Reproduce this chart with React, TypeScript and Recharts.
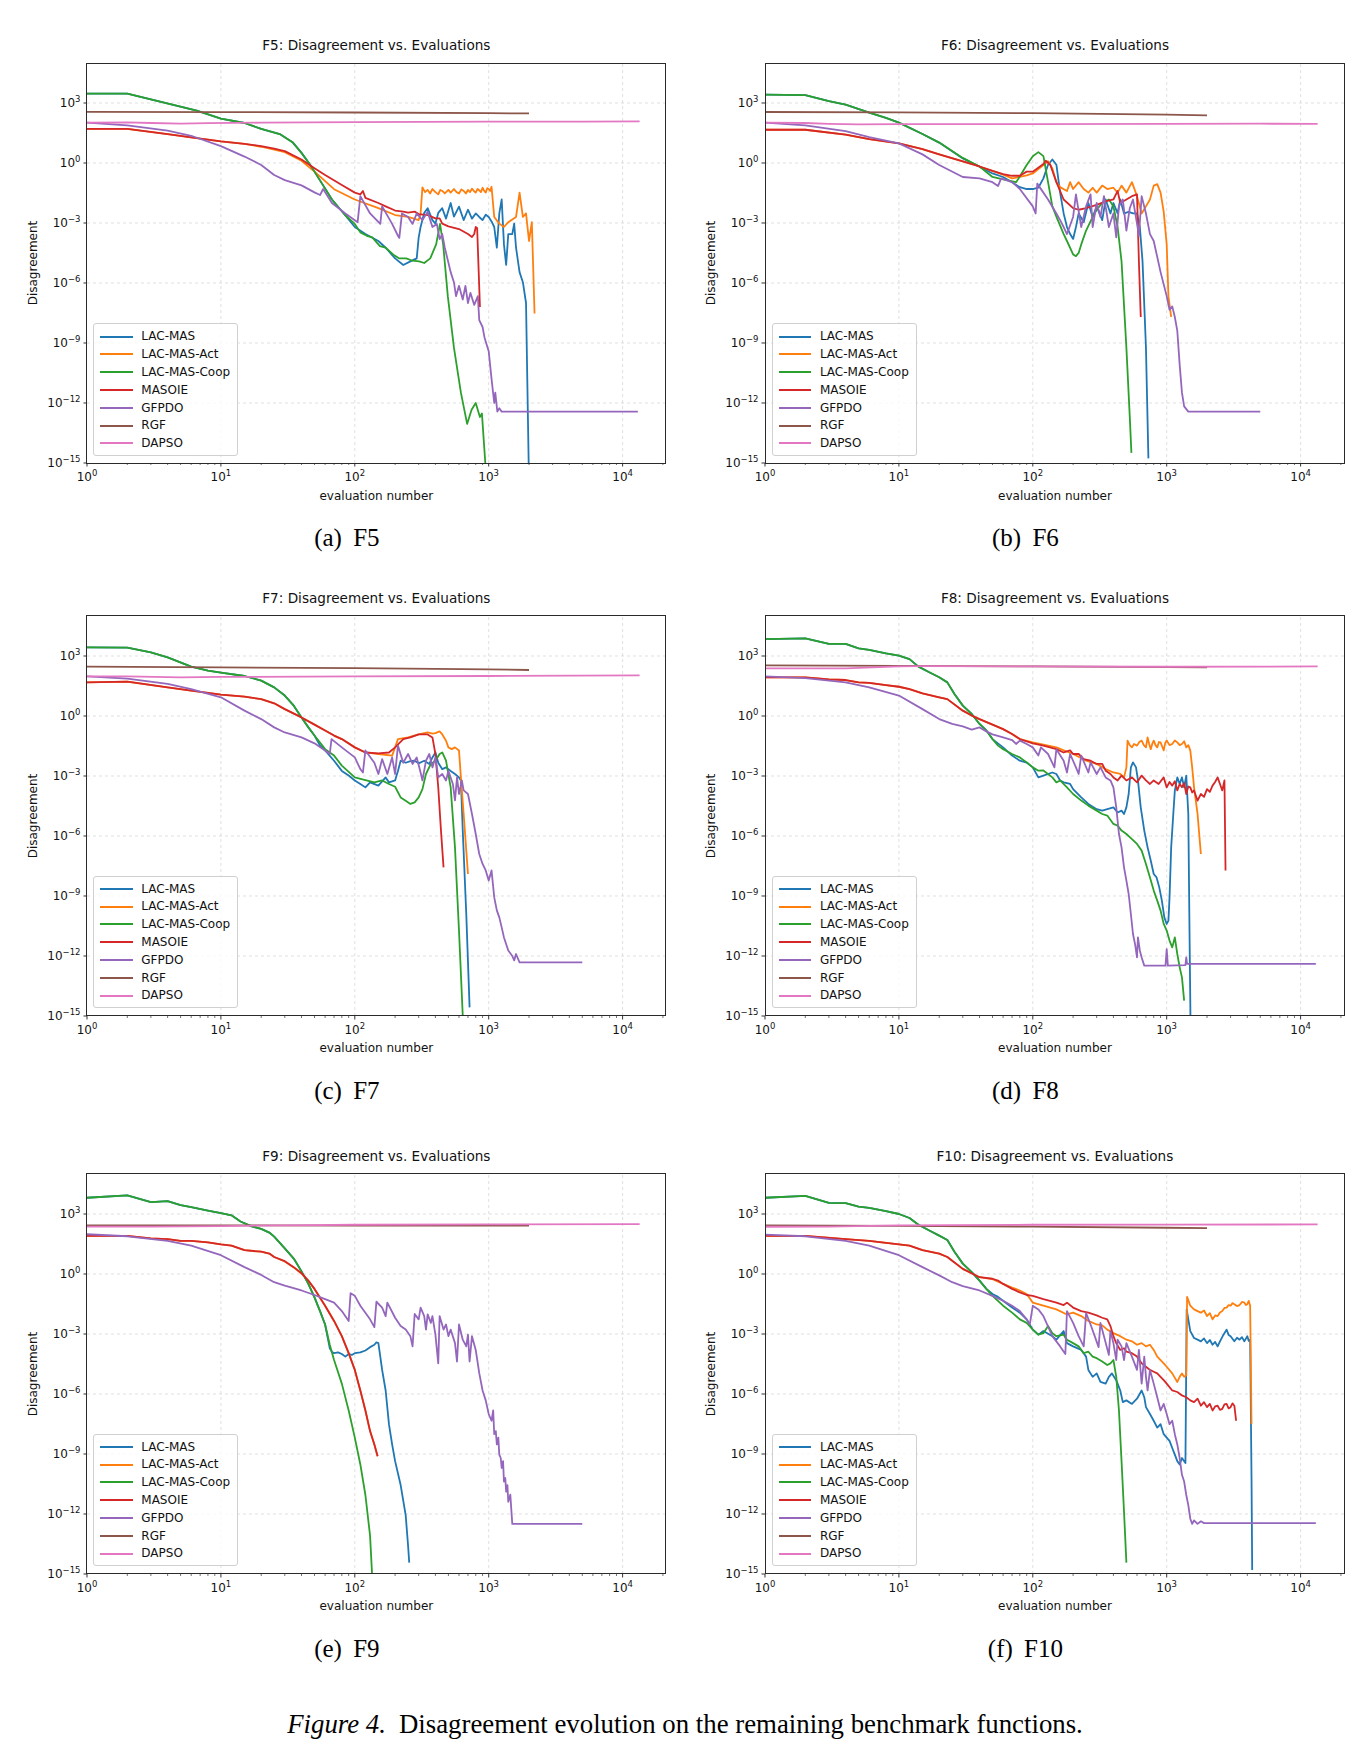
import React from 'react';
import { LineChart, Line, XAxis, YAxis, ReferenceLine } from 'recharts';

type Pt = [number, number];

// ---------- F5 ----------
const f5LacMas: Pt[] = [[1,2950],[2,2950],[3.9,1000],[6.6,420],[10,166],[15,100],[20,51],[27.5,28],[34.5,10.5],[40,3.2],[46.5,0.8],[50,0.37],[58,0.076],[67.5,0.015],[84.5,2.5e-3],[100,6.3e-4],[120,2.8e-4],[150,1.26e-4],[170,5.8e-5],[200,1.7e-5],[230,8e-6],[260,1.2e-5],[290,1.7e-5],[300,1.9e-4],[310,6.3e-4],[330,3.2e-3],[350,5.5e-3],[380,1.4e-3],[400,9.3e-4],[420,3.2e-3],[450,5.5e-3],[480,1.66e-3],[520,0.01],[550,2.1e-3],[600,6.6e-3],[650,1.4e-3],[700,4.6e-3],[750,1.66e-3],[800,3e-3],[850,2e-3],[900,1.4e-3],[950,2.6e-3],[1000,2e-3],[1050,1.2e-3],[1100,6.3e-4],[1150,5.8e-5],[1200,3e-3],[1250,0.015],[1300,8.5e-5],[1350,8e-6],[1400,2.8e-4],[1500,2.8e-4],[1550,9.3e-4],[1600,5.8e-5],[1700,3.5e-6],[1800,1.1e-6],[1900,1e-7],[2000,1e-16]];
const f5LacMasAct: Pt[] = [[1,51],[2,51],[4,28],[6,19],[10,12],[15,9],[20,6.5],[25,4.6],[30,3.5],[40,1.3],[50,0.37],[70,0.049],[100,0.015],[150,5.5e-3],[200,2.5e-3],[250,2e-3],[300,1.4e-3],[310,3e-3],[320,0.06],[335,0.035],[350,0.045],[365,0.03],[380,0.05],[400,0.035],[420,0.027],[435,0.045],[450,0.04],[470,0.03],[500,0.045],[520,0.033],[550,0.05],[575,0.035],[600,0.03],[625,0.048],[650,0.04],[675,0.03],[700,0.045],[725,0.035],[750,0.052],[775,0.04],[800,0.033],[825,0.05],[850,0.043],[875,0.035],[900,0.058],[925,0.04],[950,0.033],[975,0.055],[1000,0.05],[1025,0.04],[1050,0.065],[1100,2e-3],[1200,9.3e-4],[1300,6.3e-4],[1400,1.1e-3],[1500,1.5e-3],[1600,2e-3],[1700,0.033],[1800,2e-3],[1900,3e-3],[2000,1.26e-4],[2100,1.1e-3],[2200,3e-8]];
const f5LacMasCoop: Pt[] = [[1,2950],[2,2950],[3.9,1000],[6.6,420],[10,166],[15,100],[20,51],[27.5,28],[34.5,10.5],[40,3.2],[46.5,0.8],[50,0.37],[58,0.076],[67.5,0.015],[84.5,2.5e-3],[100,9e-4],[110,3.4e-4],[123,2.3e-4],[135,1.9e-4],[154,7e-5],[170,5.8e-5],[194,2.6e-5],[215,1.7e-5],[242,1.7e-5],[270,1.3e-5],[302,1.2e-5],[330,1e-5],[366,1.7e-5],[405,8.5e-5],[433,9e-4],[457,8.5e-5],[495,2.2e-7],[550,5.8e-10],[620,3.3e-12],[690,9e-14],[745,4.6e-13],[800,1e-12],[860,2e-13],[890,3e-13],[950,5e-16]];
const f5Masoie: Pt[] = [[1,51],[2,51],[4,28],[6,19],[10,12],[15,9],[20,7],[25,5.2],[30,3.9],[40,1.5],[50,0.55],[60,0.25],[80,0.08],[100,0.033],[110,0.027],[115,0.04],[120,0.018],[150,0.01],[170,6.8e-3],[200,4.2e-3],[230,3.7e-3],[250,3.3e-3],[280,3.7e-3],[300,2.8e-3],[350,2.5e-3],[400,1.7e-3],[430,1.7e-3],[450,9.3e-4],[500,6.8e-4],[600,5e-4],[700,2.8e-4],[750,2e-4],[780,2.8e-4],[800,6.3e-4],[820,5.5e-4],[860,6.3e-8]];
const f5Gfpdo: Pt[] = [[1,105],[2,76],[4,42],[6,23],[10,7],[15,2.1],[20,0.8],[25,0.25],[30,0.14],[40,0.076],[50,0.034],[55,0.025],[58,0.05],[67.5,0.01],[85,3e-3],[105,1.1e-3],[110,0.022],[130,3e-3],[155,9e-4],[160,6.8e-3],[190,9e-4],[210,2.3e-4],[215,1.8e-4],[225,3e-3],[250,2e-3],[270,9e-4],[290,3e-3],[320,1.4e-3],[350,3.6e-3],[380,6.3e-4],[410,9e-4],[430,1.55e-4],[450,2.8e-4],[470,5.8e-5],[520,3.5e-6],[550,1.1e-6],[570,2.2e-7],[600,7.2e-7],[640,1.5e-7],[670,7.2e-7],[700,1e-7],[730,3.2e-7],[780,8e-8],[830,2.2e-7],[850,1.4e-8],[900,6.3e-9],[930,1.9e-9],[1000,3.9e-10],[1050,1.6e-11],[1100,1e-12],[1120,3.3e-12],[1160,3.7e-13],[1200,5.5e-13],[1250,3.7e-13],[13000,3.7e-13]];
const f5Rgf: Pt[] = [[1,360],[10,350],[100,335],[1000,310],[2000,300]];
const f5Dapso: Pt[] = [[1,105],[2,108],[3,100],[5,94],[8,98],[20,104],[100,110],[1000,116],[5000,118],[13400,120]];

// ---------- F6 ----------
const f6LacMas: Pt[] = [[1,2600],[2,2500],[3,1230],[4,820],[6,330],[8,180],[10,105],[15,28],[20,10.5],[30,1.7],[40,0.65],[50,0.3],[60,0.2],[70,0.11],[80,0.062],[90,0.05],[100,0.05],[110,0.058],[120,0.17],[130,0.82],[140,1.5],[150,0.82],[160,0.033],[170,3e-3],[180,6.3e-4],[190,2.8e-4],[200,1.6e-4],[210,6.3e-4],[220,3e-3],[240,1.1e-3],[260,0.01],[280,2e-3],[300,6.8e-3],[330,1.4e-3],[350,0.015],[380,3e-3],[400,0.01],[430,3e-3],[450,0.015],[480,3e-3],[520,3.6e-3],[560,3e-3],[600,3e-3],[630,6.3e-4],[660,1.2e-5],[700,5.8e-10],[730,1.7e-15]];
const f6LacMasAct: Pt[] = [[1,46],[2,46],[4,26],[6,15.5],[10,9.6],[15,4.9],[20,2.7],[30,1.2],[40,0.67],[50,0.4],[60,0.26],[70,0.17],[80,0.2],[90,0.24],[100,0.3],[120,0.8],[130,1.23],[140,0.53],[150,0.11],[160,0.062],[180,0.04],[190,0.11],[200,0.05],[220,0.11],[240,0.05],[260,0.033],[280,0.058],[300,0.033],[330,0.074],[360,0.05],[400,0.058],[430,0.033],[460,0.074],[500,0.033],[550,0.11],[600,0.022],[650,3e-3],[700,6.8e-3],[750,0.015],[800,0.074],[850,0.088],[900,0.033],[950,3.6e-3],[1000,8.5e-5],[1030,2.2e-7],[1080,2e-8]];
const f6LacMasCoop: Pt[] = [[1,2600],[2,2500],[3,1230],[4,820],[6,330],[8,180],[10,105],[15,28],[20,10.5],[30,1.8],[40,0.67],[50,0.2],[60,0.15],[75,0.11],[80,0.21],[90,0.8],[100,2.2],[110,3.5],[120,2.2],[130,0.11],[140,6.8e-3],[150,2.1e-3],[170,2.8e-4],[180,1.26e-4],[200,2.7e-5],[210,2.2e-5],[220,3.2e-5],[230,8.5e-5],[250,4.2e-4],[280,2e-3],[300,4.6e-3],[330,0.01],[370,0.015],[400,6.8e-3],[430,6.3e-4],[460,1.2e-5],[500,5.8e-10],[530,2e-13],[545,3.2e-15]];
const f6Masoie: Pt[] = [[1,46],[2,46],[4,26],[6,15.5],[10,9.6],[15,4.9],[20,2.7],[30,1.2],[40,0.67],[50,0.4],[60,0.28],[70,0.23],[80,0.23],[90,0.37],[100,0.37],[120,0.9],[125,1.3],[135,0.82],[150,0.11],[170,0.015],[200,5.5e-3],[220,4.6e-3],[250,5.5e-3],[300,8e-3],[350,0.012],[400,0.015],[430,0.04],[450,0.01],[500,0.015],[550,0.022],[600,0.027],[620,1.2e-5],[640,2e-8]];
const f6Gfpdo: Pt[] = [[1,105],[2,76],[4,39],[6,19.5],[10,9.6],[15,2.7],[20,0.8],[30,0.2],[40,0.17],[50,0.11],[55,0.07],[58,0.17],[70,0.11],[80,0.05],[100,6.8e-3],[105,3e-3],[108,0.093],[130,0.015],[150,3e-3],[160,1.4e-3],[170,6.3e-4],[180,2.8e-4],[200,2e-3],[210,0.027],[230,6.3e-4],[250,6.8e-3],[270,0.027],[280,6.3e-4],[300,0.01],[320,2e-3],[340,0.022],[370,6.3e-4],[400,3e-3],[420,1.9e-4],[440,6.8e-3],[470,0.015],[500,4.2e-4],[530,5.5e-3],[560,0.015],[600,9.3e-4],[620,2.3e-4],[650,0.022],[700,3e-3],[750,2.8e-4],[800,1.26e-4],[900,3.5e-6],[1000,2.2e-7],[1050,4.6e-8],[1100,6.8e-8],[1150,2e-8],[1200,4e-9],[1250,8e-11],[1300,3.3e-12],[1350,6.8e-13],[1450,3.7e-13],[5000,3.7e-13]];
const f6Rgf: Pt[] = [[1,355],[10,340],[100,310],[1000,260],[2000,240]];
const f6Dapso: Pt[] = [[1,105],[2,100],[3,90],[5,85],[10,88],[100,88],[1000,90],[5000,92],[13400,90]];

// ---------- F7 ----------
const f7LacMas: Pt[] = [[1,2700],[2,2600],[3,1500],[4,860],[6,295],[8,185],[10,147],[15,100],[20,59],[25,27],[30,10.5],[35,3.3],[40,0.85],[45,0.27],[50,0.105],[55,0.033],[60,0.019],[70,5.8e-3],[80,1.8e-3],[90,1.05e-3],[100,6e-4],[110,4e-4],[120,2.7e-4],[130,4.8e-4],[150,3.3e-4],[170,8.5e-4],[180,4.8e-4],[200,6e-4],[210,1.8e-3],[220,5.8e-3],[240,4.6e-3],[260,5.6e-3],[280,5.8e-3],[300,4.3e-3],[330,5.8e-3],[360,4e-3],[380,8.5e-3],[400,0.015],[420,4.6e-3],[450,2.2e-3],[480,2.7e-3],[520,1.8e-3],[560,1.26e-3],[600,8.5e-4],[620,6e-4],[640,1.9e-6],[680,1.26e-10],[720,2.7e-15]];
const f7LacMasAct: Pt[] = [[1,48],[2,52],[4,27],[6,18.6],[10,11.7],[15,9.3],[20,7],[25,4.3],[30,2.2],[40,0.85],[50,0.37],[60,0.19],[70,0.105],[80,0.07],[100,0.027],[120,0.015],[150,0.0126],[190,0.0105],[200,0.027],[210,0.07],[250,0.085],[300,0.12],[350,0.15],[380,0.13],[400,0.14],[430,0.17],[450,0.12],[480,0.058],[500,0.027],[530,0.022],[560,0.027],[600,0.019],[620,8.5e-4],[650,1.26e-5],[700,1.26e-8]];
const f7LacMasCoop: Pt[] = [[1,2700],[2,2600],[3,1500],[4,860],[6,295],[8,185],[10,147],[15,100],[20,59],[25,27],[30,10.5],[35,3.3],[40,0.85],[45,0.27],[50,0.105],[60,0.022],[70,0.0105],[80,3.3e-3],[100,8.5e-4],[120,6.3e-4],[140,4.8e-4],[160,6e-4],[180,4e-4],[200,2.9e-4],[220,8.5e-5],[240,5.8e-5],[260,4e-5],[280,4.8e-5],[300,8.5e-5],[320,2.2e-4],[340,1.26e-3],[370,4e-3],[400,5.8e-3],[430,0.0126],[450,0.015],[480,5.8e-3],[520,2.7e-4],[560,2.7e-7],[600,1.9e-11],[650,1e-16]];
const f7Masoie: Pt[] = [[1,48],[2,52],[4,27],[6,18.6],[10,11.7],[15,9.3],[20,7],[25,4.3],[30,2.2],[40,0.85],[50,0.37],[60,0.19],[70,0.105],[80,0.07],[100,0.027],[120,0.015],[150,0.0135],[180,0.015],[200,0.027],[230,0.07],[260,0.085],[300,0.12],[350,0.12],[380,0.085],[400,0.0126],[420,2.7e-4],[440,1.9e-6],[460,2.7e-8]];
const f7Gfpdo: Pt[] = [[1,96],[2,74],[4,40],[6,22],[10,8.6],[15,1.85],[20,0.7],[25,0.27],[30,0.15],[40,0.085],[50,0.043],[60,0.019],[65,0.0126],[67,0.07],[80,0.027],[100,8.5e-3],[110,2.2e-3],[115,1.5e-3],[120,0.019],[140,4.6e-3],[150,1.26e-3],[160,7e-3],[175,1.26e-3],[190,8.5e-3],[200,1.26e-3],[210,0.033],[230,4.6e-3],[250,0.0126],[270,4e-3],[290,8.5e-3],[310,1.5e-3],[320,6e-4],[340,5.8e-3],[360,0.0126],[380,2.7e-3],[400,8.5e-3],[420,8.5e-4],[450,1.26e-3],[480,6e-4],[500,1.8e-3],[540,4e-4],[560,6e-5],[580,8.5e-4],[600,1.26e-4],[630,6e-4],[650,1.9e-4],[700,1.26e-4],[750,1.26e-5],[800,1.26e-6],[850,1.26e-7],[900,4e-8],[950,1.9e-8],[1000,5.9e-9],[1050,1.9e-8],[1100,8.5e-10],[1150,1.9e-10],[1200,8.5e-11],[1250,2.7e-11],[1300,8.5e-12],[1400,1.9e-12],[1500,1e-12],[1550,6e-13],[1600,1.26e-12],[1700,4.8e-13],[5000,4.8e-13]];
const f7Rgf: Pt[] = [[1,295],[10,270],[100,245],[1000,215],[2000,200]];
const f7Dapso: Pt[] = [[1,96],[2,95],[5,85],[10,90],[100,95],[1000,100],[13400,107]];

// ---------- F8 ----------
const f8LacMas: Pt[] = [[1,7000],[2,7600],[3,4000],[4,4000],[5,2400],[6,2000],[8,1350],[10,1050],[12,700],[14,295],[17,150],[20,86],[23,48],[26,12.6],[30,3.3],[35,1.26],[40,0.4],[45,0.19],[50,0.07],[60,0.027],[70,0.0105],[80,5.8e-3],[90,4.7e-3],[100,2.7e-3],[110,8.5e-4],[120,1.05e-3],[140,1.5e-3],[150,1.26e-3],[160,6e-4],[170,4.8e-4],[190,4e-4],[200,2.2e-4],[230,8.5e-5],[260,4e-5],[300,2.2e-5],[330,1.86e-5],[360,2.2e-5],[400,2.7e-5],[430,1.5e-5],[460,1.86e-5],[480,1.26e-5],[500,2.7e-5],[520,1.26e-4],[540,2.7e-3],[560,4.8e-3],[590,2.7e-3],[610,6e-4],[640,2.7e-5],[680,1.86e-6],[720,2.7e-7],[760,5.9e-8],[800,1.26e-8],[840,8.5e-9],[880,2.7e-9],[920,5.9e-10],[960,8.5e-11],[1000,4e-11],[1030,5.9e-11],[1050,8.5e-10],[1080,2.7e-7],[1120,1.26e-5],[1150,1.86e-4],[1200,8.5e-4],[1250,4e-4],[1300,8.5e-4],[1350,2.7e-4],[1400,1.05e-3],[1450,1.26e-5],[1480,1.86e-11],[1510,1e-16]];
const f8LacMasAct: Pt[] = [[1,86],[2,86],[3,68],[4,63],[5,48],[6,45],[8,35],[10,29],[12,22],[15,13.5],[20,8.6],[23,7],[30,1.85],[35,1.05],[40,0.7],[50,0.37],[60,0.22],[70,0.126],[80,0.07],[100,0.048],[150,0.027],[200,0.0126],[250,5.8e-3],[300,4e-3],[350,2.2e-3],[400,1.5e-3],[450,1.26e-3],[480,8.5e-4],[500,2.7e-3],[510,0.059],[530,0.035],[550,0.027],[570,0.04],[600,0.033],[625,0.05],[650,0.059],[675,0.035],[700,0.027],[720,0.085],[740,0.04],[760,0.022],[780,0.04],[800,0.059],[825,0.035],[850,0.027],[875,0.05],[900,0.048],[925,0.03],[950,0.019],[975,0.045],[1000,0.059],[1050,0.035],[1100,0.04],[1150,0.06],[1200,0.048],[1250,0.035],[1300,0.04],[1350,0.055],[1400,0.027],[1450,0.035],[1500,0.019],[1550,2.7e-3],[1600,2.7e-4],[1700,1.26e-5],[1800,1.26e-7]];
const f8LacMasCoop: Pt[] = [[1,7000],[2,7600],[3,4000],[4,4000],[5,2400],[6,2000],[8,1350],[10,1050],[12,700],[14,295],[17,150],[20,86],[23,48],[26,12.6],[30,3.3],[35,1.26],[40,0.4],[45,0.19],[50,0.07],[55,0.033],[60,0.022],[70,0.0126],[80,8.5e-3],[90,4.8e-3],[100,2.7e-3],[110,1.85e-3],[120,1.9e-3],[140,8.5e-4],[150,4.8e-4],[160,6e-4],[180,2.7e-4],[200,1.26e-4],[230,5.9e-5],[260,3.3e-5],[300,1.86e-5],[330,1.26e-5],[360,1.05e-5],[400,4e-6],[430,3.3e-6],[460,1.86e-6],[500,1.26e-6],[550,7e-7],[600,4e-7],[650,1.86e-7],[700,4e-8],[750,8.5e-9],[800,1.86e-9],[850,5.9e-10],[900,1.86e-10],[950,4e-11],[1000,1.86e-11],[1050,5.9e-12],[1100,2.7e-12],[1150,8.5e-12],[1200,1.26e-12],[1250,2.7e-13],[1300,8.5e-14],[1350,5.9e-15]];
const f8Masoie: Pt[] = [[1,86],[2,86],[3,68],[4,63],[5,48],[6,45],[8,35],[10,29],[12,22],[15,13.5],[20,8.6],[23,7],[30,1.85],[35,1.05],[40,0.7],[50,0.37],[60,0.22],[70,0.126],[80,0.07],[100,0.043],[120,0.033],[150,0.022],[170,0.015],[190,0.019],[200,0.0126],[220,0.0126],[240,7e-3],[270,5.8e-3],[300,4e-3],[330,4e-3],[350,1.85e-3],[380,1.26e-3],[400,8.5e-4],[430,6e-4],[460,1.05e-3],[500,6e-4],[550,8.5e-4],[600,4.8e-4],[650,1.05e-3],[700,6e-4],[750,4e-4],[800,6e-4],[870,4e-4],[950,8.5e-4],[1000,2.7e-4],[1050,5e-4],[1100,3.3e-4],[1150,5.5e-4],[1200,1.9e-4],[1250,4e-4],[1300,2.7e-4],[1350,4.5e-4],[1400,1.26e-4],[1450,3e-4],[1500,2.7e-4],[1550,1.5e-4],[1600,1.9e-4],[1700,5.9e-5],[1800,1.26e-4],[1900,9e-5],[2000,2.2e-4],[2100,1.6e-4],[2200,3.3e-4],[2300,5e-4],[2400,8.5e-4],[2500,4e-4],[2600,1.9e-4],[2700,6e-4],[2750,1.9e-8]];
const f8Gfpdo: Pt[] = [[1,96],[2,79],[4,48],[6,27],[10,10.5],[15,2.2],[20,0.7],[25,0.4],[30,0.3],[35,0.21],[40,0.27],[45,0.17],[50,0.12],[60,0.085],[70,0.063],[75,0.04],[80,0.059],[90,0.04],[100,0.027],[110,0.0105],[115,0.027],[130,0.0126],[145,2.7e-3],[150,0.022],[170,5.8e-3],[180,1.5e-3],[190,0.0126],[210,2.7e-3],[220,1.26e-3],[230,0.0105],[260,1.5e-3],[270,4.8e-3],[300,1.26e-3],[320,2.7e-3],[350,8.5e-4],[380,6e-4],[400,2.7e-4],[420,2.7e-5],[440,1.26e-6],[460,2.7e-7],[480,2.7e-8],[500,5.9e-9],[520,1.26e-9],[540,1.26e-10],[560,1.26e-11],[580,4e-12],[600,8.5e-13],[610,8.5e-12],[630,1.9e-12],[650,8.5e-13],[680,3.3e-13],[980,3.3e-13],[1000,2.2e-12],[1020,3.3e-13],[1380,3.5e-13],[1400,8.5e-13],[1420,4e-13],[13000,4e-13]];
const f8Rgf: Pt[] = [[1,340],[10,320],[100,300],[1000,280],[2000,270]];
const f8Dapso: Pt[] = [[1,240],[4,240],[10,300],[15,310],[100,300],[1000,290],[13400,300]];

// ---------- F9 ----------
const f9LacMas: Pt[] = [[1,6500],[2,8500],[3,3900],[4,4400],[5,2750],[6,2200],[8,1480],[10,1100],[12,860],[14,420],[17,240],[20,180],[23,118],[25,74],[30,19],[35,5.9],[40,1.35],[45,0.32],[50,0.068],[55,0.014],[60,3e-3],[65,1.95e-4],[68,1.2e-4],[70,1.1e-4],[75,1.2e-4],[80,1e-4],[85,7.4e-5],[90,1e-4],[95,9e-5],[100,1.1e-4],[110,1.2e-4],[120,1.5e-4],[130,2.2e-4],[140,2.9e-4],[145,3.8e-4],[150,3.5e-4],[155,7.4e-5],[160,1.6e-5],[170,1.5e-6],[180,3e-8],[190,3e-9],[200,4.4e-10],[220,2.8e-11],[240,8.5e-13],[250,2.6e-14],[255,3.7e-15]];
const f9LacMasAct: Pt[] = [[1,80],[2,80],[3,60],[4,56],[5,45],[6,45],[8,38],[10,30],[12,26],[15,15.5],[20,13],[23,10.5],[25,7.1],[30,4.2],[35,2.1],[40,1.05],[45,0.45],[50,0.18],[60,0.026],[70,4.5e-3],[80,7.8e-4],[90,1.1e-4],[100,1.6e-5],[110,1.5e-6],[120,1.5e-7],[130,1.4e-8],[140,3e-9],[148,7.8e-10]];
const f9LacMasCoop: Pt[] = [[1,6500],[2,8500],[3,3900],[4,4400],[5,2750],[6,2200],[8,1480],[10,1100],[12,860],[14,420],[17,240],[20,180],[23,118],[25,74],[30,19],[35,5.9],[40,1.35],[45,0.32],[50,0.068],[55,0.014],[60,3e-3],[65,2.9e-4],[70,5e-5],[80,3.3e-6],[90,1.5e-7],[100,6.6e-9],[110,3e-10],[120,8.9e-12],[130,8.3e-14],[137,1e-16]];
const f9Masoie: Pt[] = [[1,80],[2,80],[3,60],[4,56],[5,45],[6,45],[8,38],[10,30],[12,26],[15,15.5],[20,13],[23,10.5],[25,7.1],[30,4.4],[35,2.2],[40,1.1],[45,0.47],[50,0.18],[60,0.026],[70,4.5e-3],[80,7.8e-4],[90,1.1e-4],[100,1.6e-5],[110,1.5e-6],[120,1.5e-7],[130,1.4e-8],[140,3e-9],[148,7.8e-10]];
const f9Gfpdo: Pt[] = [[1,97],[2,77],[4,45],[6,26],[10,8.7],[15,2.2],[20,0.9],[25,0.39],[30,0.26],[40,0.15],[50,0.089],[60,0.055],[70,0.037],[80,0.014],[90,4.5e-3],[93,0.11],[100,0.081],[110,0.026],[130,5.4e-3],[140,2.2e-3],[145,0.041],[160,0.021],[170,7.9e-3],[175,0.037],[200,6.5e-3],[220,2.5e-3],[240,1.66e-3],[260,7.8e-4],[270,2.4e-4],[280,0.01],[300,5.4e-3],[310,0.021],[330,7.9e-3],[340,1.66e-3],[350,9.5e-3],[370,3.6e-3],[380,7.9e-3],[400,9.3e-4],[420,3.4e-5],[430,7.9e-3],[460,1.66e-3],[480,3e-3],[500,7.8e-4],[520,1.66e-3],[560,3.5e-4],[580,4.2e-5],[600,3e-3],[640,5.2e-4],[680,2.4e-4],[700,9.3e-4],[720,4.2e-5],[750,7.8e-4],[800,1.6e-4],[850,1.1e-5],[900,1.5e-6],[950,4.8e-7],[1000,1e-7],[1050,4.6e-8],[1080,1.5e-7],[1100,9.8e-9],[1130,1.4e-8],[1150,3e-9],[1180,6.6e-9],[1200,9.3e-10],[1230,6.3e-10],[1250,2e-10],[1280,4.4e-10],[1300,4.2e-11],[1330,6.3e-11],[1350,1.3e-11],[1380,2.8e-11],[1400,4.1e-12],[1450,9.3e-12],[1500,3.2e-13],[5000,3.2e-13]];
const f9Rgf: Pt[] = [[1,270],[10,268],[100,265],[1000,262],[2000,260]];
const f9Dapso: Pt[] = [[1,235],[3,232],[10,250],[30,270],[100,290],[1000,300],[13400,310]];

// ---------- F10 ----------
const f10LacMas: Pt[] = [[1,6500],[2,8000],[3,3600],[4,3500],[5,2350],[6,2000],[8,1380],[10,1000],[12,630],[14,290],[17,145],[20,83],[23,50],[26,13],[30,3.3],[35,1.23],[40,0.47],[45,0.18],[50,0.1],[55,0.072],[60,0.046],[70,0.021],[80,0.0117],[90,5.4e-3],[100,1.66e-3],[110,9.3e-4],[120,1.4e-3],[140,7.8e-4],[150,5.2e-4],[170,1.4e-3],[180,3.5e-4],[200,2.4e-4],[230,1.6e-4],[250,7.4e-5],[260,1.6e-5],[280,7.2e-6],[300,1.07e-5],[320,4e-6],[350,3.3e-6],[370,7.2e-6],[390,1.07e-5],[420,4.9e-6],[450,1.5e-6],[470,3.9e-7],[500,4.8e-7],[550,3.2e-7],[600,5.8e-7],[650,1.5e-6],[680,6.9e-7],[700,2.2e-7],[750,1e-7],[800,4.6e-8],[850,2.1e-8],[900,3.1e-8],[950,9.8e-9],[1000,6.6e-9],[1050,4.5e-9],[1100,2e-9],[1150,9.3e-10],[1200,4.4e-10],[1250,3e-10],[1300,6.3e-10],[1380,3.5e-10],[1410,0.017],[1500,1.4e-3],[1600,6.3e-4],[1700,5.2e-4],[1800,4.3e-4],[1900,6e-4],[2000,3.5e-4],[2100,5e-4],[2200,2.9e-4],[2300,4e-4],[2400,2.4e-4],[2500,4.3e-4],[2650,9e-4],[2800,1.66e-3],[2900,9e-4],[3000,7.8e-4],[3200,4.3e-4],[3350,6.5e-4],[3500,5.2e-4],[3650,7e-4],[3800,4.3e-4],[4000,7.8e-4],[4100,4.5e-4],[4200,5.2e-4],[4300,6.3e-11],[4350,1.6e-15]];
const f10LacMasAct: Pt[] = [[1,80],[2,80],[4,56],[6,45],[10,30],[12,26],[15,15.5],[20,10.5],[23,7.1],[30,1.8],[40,0.69],[50,0.55],[60,0.32],[70,0.21],[80,0.15],[90,0.1],[100,0.037],[120,0.026],[150,0.017],[180,9.5e-3],[200,0.0117],[230,7.9e-3],[260,4.5e-3],[300,3e-3],[330,2.7e-3],[360,1.66e-3],[400,1.1e-3],[450,7.8e-4],[500,5.2e-4],[550,4.3e-4],[600,2.9e-4],[650,3.5e-4],[700,2.4e-4],[750,2.9e-4],[800,1.6e-4],[850,7.4e-5],[900,5e-5],[950,3.4e-5],[1000,2.3e-5],[1100,1.07e-5],[1200,4e-6],[1250,7.2e-6],[1300,1.07e-5],[1350,7.2e-6],[1400,8.7e-6],[1420,0.072],[1500,0.026],[1600,0.017],[1700,0.014],[1800,0.0117],[1900,0.015],[2000,7.9e-3],[2100,0.011],[2200,5.4e-3],[2300,8.5e-3],[2400,7.9e-3],[2500,0.012],[2600,0.014],[2700,0.02],[2800,0.021],[2900,0.028],[3000,0.026],[3100,0.035],[3200,0.031],[3350,0.025],[3500,0.028],[3650,0.04],[3800,0.037],[3900,0.028],[4000,0.031],[4100,0.045],[4200,0.026],[4300,3.2e-8]];
const f10LacMasCoop: Pt[] = [[1,6500],[2,8000],[3,3600],[4,3500],[5,2350],[6,2000],[8,1380],[10,1000],[12,630],[14,290],[17,145],[20,83],[23,50],[26,13],[30,3.3],[35,1.23],[40,0.47],[45,0.18],[50,0.081],[60,0.026],[70,0.0117],[80,5.4e-3],[90,3.6e-3],[100,1.66e-3],[110,9.3e-4],[120,1.1e-3],[130,2.5e-3],[140,1.1e-3],[150,7.8e-4],[170,9.3e-4],[180,5.2e-4],[200,3.5e-4],[220,2.4e-4],[240,1.1e-4],[260,1.3e-4],[280,7.4e-5],[300,6.2e-5],[330,4.2e-5],[360,2.8e-5],[380,3.4e-5],[400,5e-5],[420,7.2e-6],[440,1.5e-7],[460,4.4e-10],[480,1.3e-12],[500,3.7e-15]];
const f10Masoie: Pt[] = [[1,80],[2,80],[4,56],[6,45],[10,30],[12,26],[15,15.5],[20,10.5],[23,7.1],[30,1.8],[40,0.69],[50,0.58],[55,0.47],[60,0.32],[70,0.18],[80,0.12],[90,0.089],[100,0.081],[120,0.055],[150,0.037],[170,0.028],[180,0.037],[200,0.021],[230,0.014],[260,0.0117],[300,8.5e-3],[330,6.5e-3],[360,5.4e-3],[380,2.5e-3],[400,7.8e-4],[420,3.5e-4],[450,1.6e-4],[480,1.95e-4],[500,1.3e-4],[550,1.1e-4],[600,7.4e-5],[650,3.4e-5],[700,2.3e-5],[750,1.6e-5],[800,1.3e-5],[850,1.07e-5],[900,7.2e-6],[950,4.9e-6],[1000,3.3e-6],[1100,1.5e-6],[1200,1.26e-6],[1300,8.5e-7],[1400,6.9e-7],[1500,4.8e-7],[1600,3.9e-7],[1700,5.8e-7],[1800,2.6e-7],[1900,3.9e-7],[2000,2.2e-7],[2100,3.2e-7],[2200,1.5e-7],[2300,2.4e-7],[2400,2.6e-7],[2500,1.6e-7],[2600,1.8e-7],[2700,3e-7],[2800,3.2e-7],[2900,1.9e-7],[3000,2.2e-7],[3100,3.4e-7],[3200,2.6e-7],[3300,4.6e-8]];
const f10Gfpdo: Pt[] = [[1,94],[2,77],[4,45],[6,26],[10,8.7],[15,2.2],[20,0.85],[25,0.39],[30,0.25],[40,0.15],[50,0.081],[60,0.046],[70,0.026],[80,0.014],[90,5.4e-3],[95,3e-3],[100,0.026],[110,0.017],[120,7.9e-3],[140,7.8e-4],[160,2.4e-4],[175,1e-4],[180,0.014],[200,3.6e-3],[220,7.8e-4],[240,2.4e-4],[250,0.011],[270,3e-3],[290,7.8e-4],[310,2.2e-4],[320,3.6e-3],[340,7.8e-4],[370,9e-5],[380,1.4e-3],[400,3.5e-4],[420,5e-5],[430,5.2e-4],[460,2.4e-4],[480,5e-5],[500,3.5e-4],[550,7.4e-5],[600,1.6e-5],[620,1.6e-4],[650,3.3e-6],[680,7.4e-5],[700,7.2e-6],[720,1.5e-6],[750,1.6e-5],[800,3.3e-6],[850,6.9e-7],[900,1.5e-7],[950,3.2e-7],[1000,1e-7],[1050,3.1e-8],[1100,4.6e-8],[1150,9.8e-9],[1200,3e-9],[1250,6.3e-10],[1300,9.1e-11],[1350,4.2e-11],[1400,8.9e-12],[1450,2.8e-12],[1500,5.8e-13],[1550,3.2e-13],[1600,4.8e-13],[1700,3.2e-13],[1800,4.3e-13],[1900,3.5e-13],[13000,3.5e-13]];
const f10Rgf: Pt[] = [[1,270],[10,255],[100,235],[1000,205],[2000,195]];
const f10Dapso: Pt[] = [[1,230],[3,235],[10,270],[100,290],[1000,295],[13400,300]];

// ---------- series, panels, axes ----------
const SERIES_NAMES = ['LAC-MAS', 'LAC-MAS-Act', 'LAC-MAS-Coop', 'MASOIE', 'GFPDO', 'RGF', 'DAPSO'];
const SERIES_COLORS = ['#1f77b4', '#ff7f0e', '#2ca02c', '#d62728', '#9467bd', '#8c564b', '#e377c2'];

const PANEL_TITLES = [
  'F5: Disagreement vs. Evaluations',
  'F6: Disagreement vs. Evaluations',
  'F7: Disagreement vs. Evaluations',
  'F8: Disagreement vs. Evaluations',
  'F9: Disagreement vs. Evaluations',
  'F10: Disagreement vs. Evaluations',
];
const PANEL_CAPTIONS = ['(a) F5', '(b) F6', '(c) F7', '(d) F8', '(e) F9', '(f) F10'];

const PANEL_SERIES: Pt[][][] = [
  [f5LacMas, f5LacMasAct, f5LacMasCoop, f5Masoie, f5Gfpdo, f5Rgf, f5Dapso],
  [f6LacMas, f6LacMasAct, f6LacMasCoop, f6Masoie, f6Gfpdo, f6Rgf, f6Dapso],
  [f7LacMas, f7LacMasAct, f7LacMasCoop, f7Masoie, f7Gfpdo, f7Rgf, f7Dapso],
  [f8LacMas, f8LacMasAct, f8LacMasCoop, f8Masoie, f8Gfpdo, f8Rgf, f8Dapso],
  [f9LacMas, f9LacMasAct, f9LacMasCoop, f9Masoie, f9Gfpdo, f9Rgf, f9Dapso],
  [f10LacMas, f10LacMasAct, f10LacMasCoop, f10Masoie, f10Gfpdo, f10Rgf, f10Dapso],
];

const X_LABEL = 'evaluation number';
const Y_LABEL = 'Disagreement';
const FIGURE_LABEL = 'Figure 4.';
const FIGURE_TEXT = 'Disagreement evolution on the remaining benchmark functions.';

const X_DECADES = [1, 10, 100, 1000, 10000];
const X_MINOR_STEPS = [2, 3, 4, 5, 6, 7, 8, 9];
const Y_TICKS = [1e-15, 1e-12, 1e-9, 1e-6, 1e-3, 1, 1e3];
const X_DOMAIN: [number, number] = [1, 21200];
const Y_DOMAIN: [number, number] = [1e-15, 1e5];
const X_TICKS = X_DECADES.flatMap((d) => [d, ...X_MINOR_STEPS.map((m) => m * d)]).filter((v) => v <= X_DOMAIN[1]);

// ---------- layout ----------
const PLOT_LEFT = [86.7, 765.3];
const PLOT_TOP = [63.3, 615.5, 1173.5];
const PLOT_W = 579.3;
const PLOT_H = 400;
const SANS = '"DejaVu Sans", Verdana, sans-serif';
const SERIF = '"Liberation Serif", "Times New Roman", serif';
const INK = '#111';
const LINE_WIDTH = 1.8;

function PowerLabel({ x, y, exp, anchor }: { x: number; y: number; exp: number; anchor: 'middle' | 'end' }) {
  const expText = exp < 0 ? `\u2212${-exp}` : `${exp}`;
  return (
    <text x={x} y={y} textAnchor={anchor} fontFamily={SANS} fontSize={12} fill={INK}>
      10
      <tspan dy={-5.5} fontSize={8.5}>
        {expText}
      </tspan>
    </text>
  );
}

function XTick(props: any) {
  const { x, y, payload } = props;
  const v = payload.value as number;
  const major = X_DECADES.includes(v);
  return (
    <g>
      <line x1={x} x2={x} y1={y} y2={y + (major ? 3.5 : 2)} stroke="#333" strokeWidth={major ? 1 : 0.7} />
      {major && <PowerLabel x={x} y={y + 18.5} exp={Math.round(Math.log10(v))} anchor="middle" />}
    </g>
  );
}

function YTick(props: any) {
  const { x, y, payload } = props;
  return (
    <g>
      <line x1={x - 3.5} x2={x} y1={y} y2={y} stroke="#333" strokeWidth={1} />
      <PowerLabel x={x - 6.5} y={y + 4.3} exp={Math.round(Math.log10(payload.value))} anchor="end" />
    </g>
  );
}

function centered(cx: number, cy: number, extra: React.CSSProperties = {}): React.CSSProperties {
  return {
    position: 'absolute',
    left: cx,
    top: cy,
    transform: 'translate(-50%, -50%)',
    whiteSpace: 'nowrap',
    lineHeight: 1,
    ...extra,
  };
}

function Panel({ index }: { index: number }) {
  const col = index % 2;
  const row = Math.floor(index / 2);
  const left = PLOT_LEFT[col];
  const top = PLOT_TOP[row];
  const cx = left + PLOT_W / 2;
  const series = PANEL_SERIES[index];
  const gridStyle = { stroke: '#c8c8c8', strokeOpacity: 0.7, strokeDasharray: '3 3', strokeWidth: 0.8 };

  return (
    <>
      <div style={centered(cx, top - 17, { fontFamily: SANS, fontSize: 13.6, color: INK })}>{PANEL_TITLES[index]}</div>
      <div style={centered(left - 54, top + PLOT_H / 2, { fontFamily: SANS, fontSize: 12, color: INK, transform: 'translate(-50%, -50%) rotate(-90deg)' })}>
        {Y_LABEL}
      </div>
      <div style={centered(cx, top + PLOT_H + 32.5, { fontFamily: SANS, fontSize: 12, color: INK })}>{X_LABEL}</div>
      <div style={centered(cx - 29.5, top + PLOT_H + 74, { fontFamily: SERIF, fontSize: 25, color: '#000', wordSpacing: 5 })}>
        {PANEL_CAPTIONS[index]}
      </div>

      <div style={{ position: 'absolute', left: left - 60, top: top - 10 }}>
        <LineChart width={PLOT_W + 70} height={PLOT_H + 40} margin={{ top: 10, right: 10, bottom: 0, left: 0 }}>
          <XAxis
            type="number"
            dataKey="x"
            scale="log"
            domain={X_DOMAIN}
            allowDataOverflow
            ticks={X_TICKS}
            interval={0}
            height={30}
            axisLine={false}
            tickLine={false}
            tickSize={0}
            tickMargin={0}
            tick={(p: any) => <XTick {...p} />}
          />
          <YAxis
            type="number"
            dataKey="y"
            scale="log"
            domain={Y_DOMAIN}
            allowDataOverflow
            ticks={Y_TICKS}
            interval={0}
            width={60}
            axisLine={false}
            tickLine={false}
            tickSize={0}
            tickMargin={0}
            tick={(p: any) => <YTick {...p} />}
          />
          {X_DECADES.slice(1).map((v) => (
            <ReferenceLine key={`gx${v}`} x={v} {...gridStyle} />
          ))}
          {Y_TICKS.slice(1).map((v) => (
            <ReferenceLine key={`gy${v}`} y={v} {...gridStyle} />
          ))}
          {series.map((pts, i) => (
            <Line
              key={SERIES_NAMES[i]}
              name={SERIES_NAMES[i]}
              data={pts.map(([x, y]) => ({ x, y }))}
              dataKey="y"
              type="linear"
              stroke={SERIES_COLORS[i]}
              strokeWidth={LINE_WIDTH}
              strokeLinejoin="round"
              dot={false}
              activeDot={false}
              isAnimationActive={false}
            />
          ))}
        </LineChart>
      </div>

      {/* axes frame */}
      <div
        style={{
          position: 'absolute',
          left: left - 0.5,
          top: top - 0.5,
          width: PLOT_W + 1,
          height: PLOT_H + 1,
          boxSizing: 'border-box',
          border: '1px solid #2a2a2a',
          pointerEvents: 'none',
        }}
      />

      {/* legend */}
      <div
        style={{
          position: 'absolute',
          left: left + 6.6,
          top: top + PLOT_H - 140,
          width: 145,
          height: 132.7,
          boxSizing: 'border-box',
          border: '1px solid #d0d0d0',
          borderRadius: 3,
          background: 'rgba(255,255,255,0.8)',
          paddingTop: 3.5,
        }}
      >
        {SERIES_NAMES.map((name, i) => (
          <div key={name} style={{ height: 17.8, position: 'relative' }}>
            <div style={{ position: 'absolute', left: 6, width: 32.5, height: 2, top: 7.9, background: SERIES_COLORS[i] }} />
            <div style={{ position: 'absolute', left: 47, top: 2.6, fontFamily: SANS, fontSize: 12, lineHeight: '13px', color: INK, whiteSpace: 'nowrap' }}>
              {name}
            </div>
          </div>
        ))}
      </div>
    </>
  );
}

export default function App() {
  return (
    <div style={{ position: 'absolute', left: 0, top: 0, width: 1368, height: 1756, background: '#fff', overflow: 'hidden' }}>
      {PANEL_TITLES.map((_, i) => (
        <Panel key={i} index={i} />
      ))}
      <div style={centered(685, 1724, { fontFamily: SERIF, fontSize: 26.8, color: '#000' })}>
        <span style={{ fontStyle: 'italic' }}>{FIGURE_LABEL}</span>
        <span style={{ marginLeft: 13 }}>{FIGURE_TEXT}</span>
      </div>
    </div>
  );
}
